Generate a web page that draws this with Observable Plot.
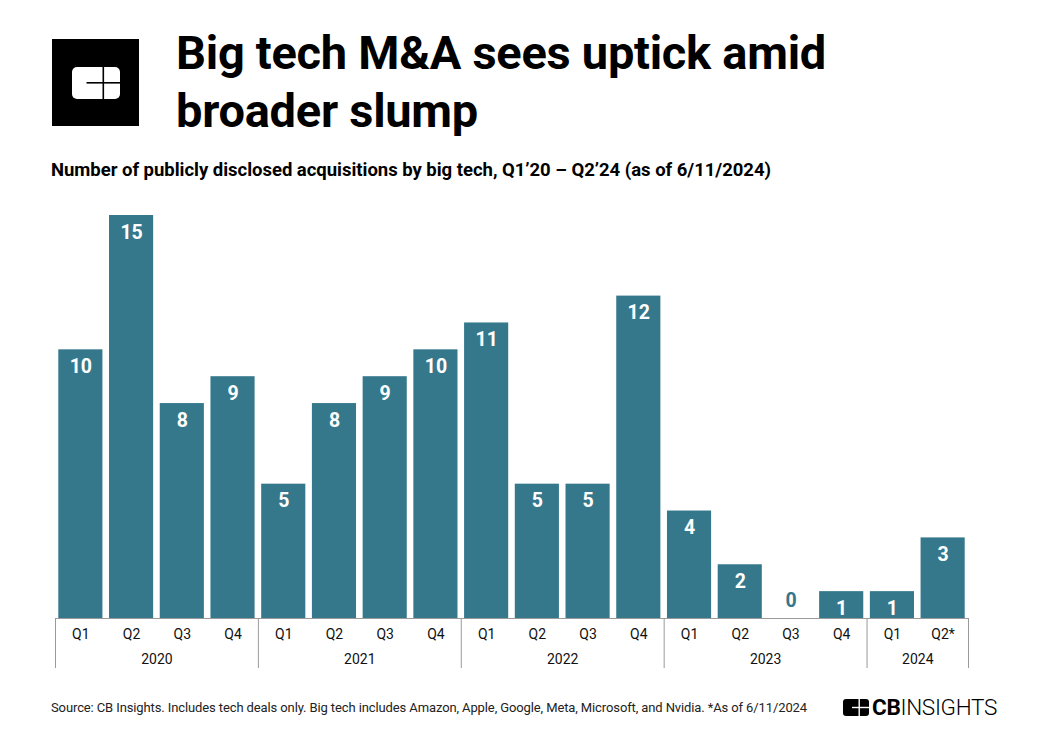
<!DOCTYPE html>
<html>
<head>
<meta charset="utf-8">
<script src="https://cdn.jsdelivr.net/npm/d3@7"></script>
<script src="https://cdn.jsdelivr.net/npm/@observablehq/plot@0.6"></script>
<style>
  html, body { margin: 0; padding: 0; background: #fff; }
  body { width: 1040px; height: 754px; position: relative; font-family: Roboto, "Noto Sans", sans-serif; color: #000; overflow: hidden; }
  #logo { position: absolute; left: 52px; top: 39px; }
  #title { position: absolute; left: 176px; top: 24px; font-size: 47px; font-weight: 700; line-height: 58px; margin: 0; }
  #title span { display: block; white-space: nowrap; }
  #subtitle { position: absolute; left: 51px; top: 159px; font-size: 18.5px; line-height: 22px; font-weight: 700; margin: 0; white-space: nowrap; }
  #chart { position: absolute; left: 0; top: 190px; }
  #source { position: absolute; left: 51px; top: 700px; font-size: 13px; color: #222; white-space: nowrap; }
  #brand { position: absolute; left: 843px; top: 695px; display: flex; align-items: center; }
  #brand span { font-size: 22.5px; line-height: 24px; letter-spacing: -0.3px; }
</style>
</head>
<body>
<svg id="logo" width="87" height="87" viewBox="0 0 87 87">
  <rect x="0" y="0" width="87" height="87" fill="#000"/>
  <rect x="20" y="28" width="48" height="32" rx="5" fill="#fff"/>
  <rect x="50.5" y="28" width="1.6" height="32" fill="#000"/>
  <rect x="34.5" y="43" width="34" height="1.6" fill="#000"/>
</svg>
<h1 id="title"><span id="t1">Big tech M&amp;A sees uptick amid</span><span id="t2">broader slump</span></h1>
<p id="subtitle"><span id="sub">Number of publicly disclosed acquisitions by big tech, Q1’20 – Q2’24 (as of 6/11/2024)</span></p>
<div id="chart"></div>
<div id="source"><span id="src">Source: CB Insights. Includes tech deals only. Big tech includes Amazon, Apple, Google, Meta, Microsoft, and Nvidia. *As of 6/11/2024</span></div>
<div id="brand">
  <svg width="26" height="17" viewBox="0 0 26 17" style="margin-right:3px">
    <rect x="0" y="0" width="26" height="17" rx="3" fill="#000"/>
    <rect x="15.5" y="0" width="1.4" height="17" fill="#fff"/>
    <rect x="9" y="7.8" width="17" height="1.4" fill="#fff"/>
  </svg>
  <span style="font-weight:700">CB</span><span style="font-weight:300">INSIGHTS</span>
</div>
<script>
const quarters = ["Q1","Q2","Q3","Q4","Q1","Q2","Q3","Q4","Q1","Q2","Q3","Q4","Q1","Q2","Q3","Q4","Q1","Q2*"];
const years = ["2020","2020","2020","2020","2021","2021","2021","2021","2022","2022","2022","2022","2023","2023","2023","2023","2024","2024"];
const acquisitions = [10,15,8,9,5,8,9,10,11,5,5,12,4,2,0,1,1,3];
const yearLabels = ["2020","2021","2022","2023","2024"];

// fit text widths to the reference layout
function fitWidth(id, target) {
  const el = document.getElementById(id);
  const prev = el.style.display;
  el.style.display = "inline-block";
  const w = el.getBoundingClientRect().width;
  const n = el.textContent.length;
  el.style.letterSpacing = ((target - w) / n) + "px";
  el.style.display = prev;
}
fitWidth("t1", 650);
fitWidth("t2", 302);
fitWidth("sub", 720);
fitWidth("src", 756);

const color = "#35788c";
const data = quarters.map((q, i) => ({i, q, year: years[i], value: acquisitions[i]}));
const yearGroups = yearLabels.map(y => {
  const idx = data.filter(d => d.year === y).map(d => d.i);
  return {year: y, mid: (d3.min(idx) + d3.max(idx)) / 2, start: d3.min(idx) - 0.5, end: d3.max(idx) + 0.5};
});
const bounds = Array.from(new Set(yearGroups.flatMap(g => [g.start, g.end])));
const pxPerUnit = (428 - 25) / 15;
const tickDepth = -50 / pxPerUnit;

const chart = Plot.plot({
  width: 1040,
  height: 490,
  marginLeft: 55, marginRight: 72, marginTop: 25, marginBottom: 62,
  x: {type: "linear", domain: [-0.5, 17.5], range: [55, 968], axis: null},
  y: {type: "linear", domain: [0, 15], range: [428, 25], axis: null},
  style: {fontFamily: "Roboto, 'Noto Sans', sans-serif", background: "transparent"},
  marks: [
    Plot.rectY(data, {x1: d => d.i - 0.435, x2: d => d.i + 0.435, y1: () => 0, y2: "value", fill: color}),
    Plot.ruleY([0], {x1: () => -0.5, x2: () => 17.5, stroke: "#9a9a9a", strokeWidth: 1}),
    Plot.ruleX(bounds, {x: d => d, y1: () => 0, y2: () => tickDepth, stroke: "#9a9a9a", strokeWidth: 1}),
    Plot.text(data.filter(d => d.value > 0), {x: "i", y: "value", text: d => String(d.value), dy: 17, fill: "#fff", fontSize: 19.5, fontWeight: 700}),
    Plot.text(data.filter(d => d.value === 0), {x: "i", y: "value", text: d => String(d.value), dy: -18, fill: color, fontSize: 19.5, fontWeight: 700}),
    Plot.text(data, {x: "i", y: () => 0, text: "q", dy: 16, fill: "#111", fontSize: 14}),
    Plot.text(yearGroups, {x: "mid", y: () => 0, text: "year", dy: 41, fill: "#111", fontSize: 14})
  ]
});
document.getElementById("chart").appendChild(chart);
</script>
</body>
</html>
